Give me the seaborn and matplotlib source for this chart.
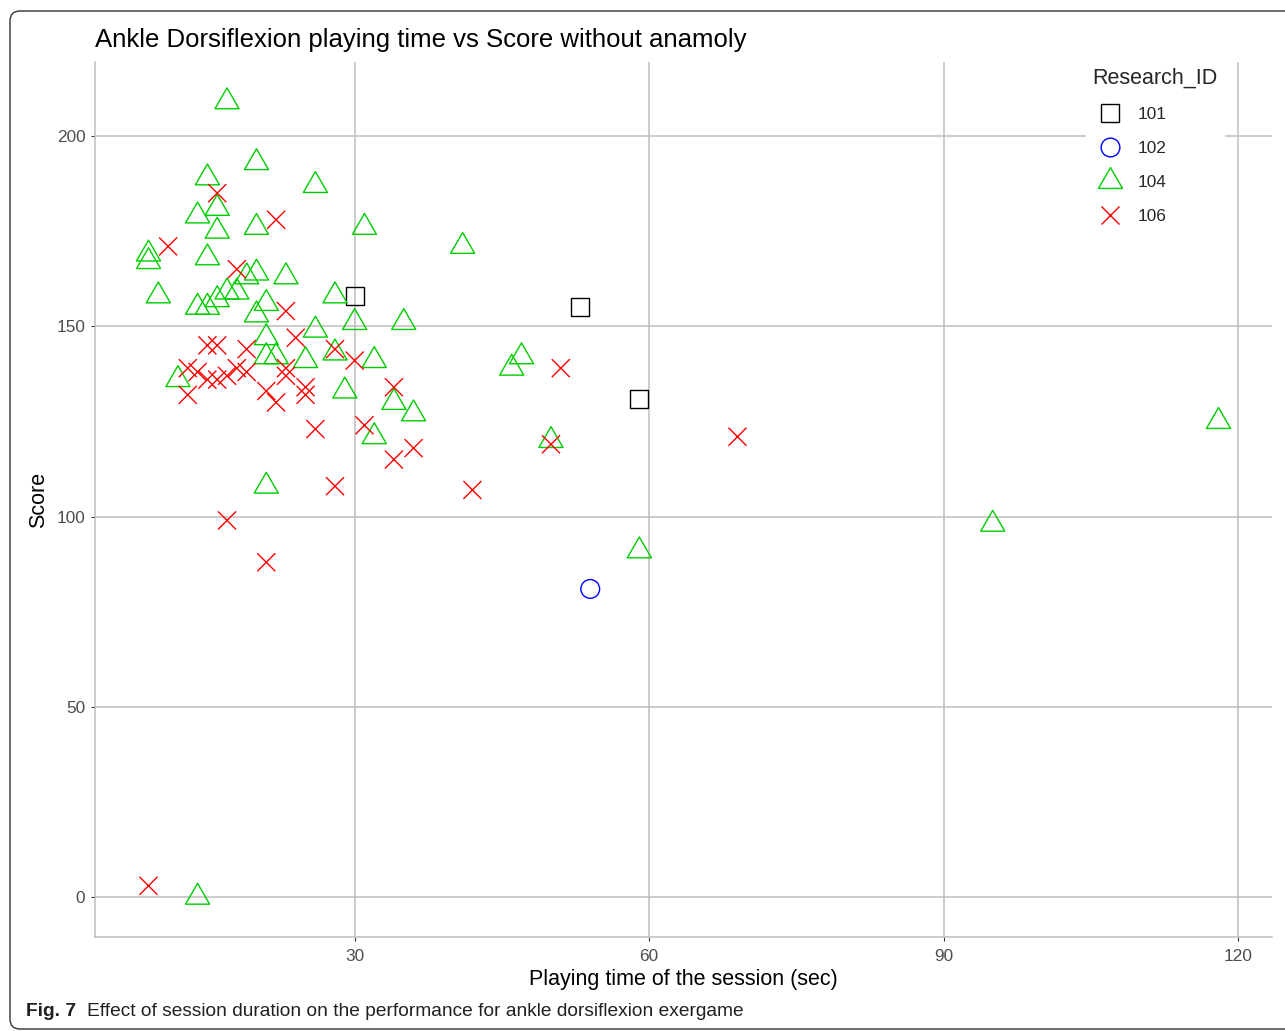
"""Ankle dorsiflexion exergame: playing time vs score (anomalies removed)."""
import numpy as np
import pandas as pd
import matplotlib
matplotlib.use("Agg")
import matplotlib.pyplot as plt
import seaborn as sns
from matplotlib.markers import MarkerStyle
from matplotlib.path import Path
from matplotlib.lines import Line2D
from matplotlib.patches import FancyBboxPatch

sns.set_theme(style="white")
plt.rcParams["font.family"] = ["Liberation Sans", "DejaVu Sans"]

IDS = ["101", "102", "104", "106"]

# playing time (sec) / score, one pair of lists per research id
TIME_101 = [30, 53, 59]
SCORE_101 = [158, 155, 131]

TIME_102 = [54]
SCORE_102 = [81]

TIME_104 = [17, 20, 15, 26, 16, 14, 20, 16, 31, 9,
            9, 15, 10, 20, 19, 23, 14, 15, 16, 17,
            18, 21, 20, 28, 30, 35, 26, 21, 21, 22,
            28, 25, 32, 12, 29, 34, 36, 32, 21, 41,
            47, 46, 50, 59, 95, 118, 14]
SCORE_104 = [209, 193, 189, 187, 181, 179, 176, 175, 176, 169,
             167, 168, 158, 164, 163, 163, 155, 155, 157, 159,
             159, 156, 153, 158, 151, 151, 149, 147, 142, 142,
             143, 141, 141, 136, 133, 130, 127, 121, 108, 171,
             142, 139, 120, 91, 98, 125, 0]

TIME_106 = [9, 11, 16, 22, 18, 23, 24, 15, 16, 19,
            28, 30, 13, 14, 15, 16, 17, 18, 19, 23,
            23, 25, 25, 13, 21, 22, 34, 26, 31, 36,
            34, 28, 42, 17, 21, 50, 51, 69]
SCORE_106 = [3, 171, 185, 178, 165, 154, 147, 145, 145, 144,
             144, 141, 139, 138, 136, 136, 137, 139, 138, 139,
             137, 134, 132, 132, 133, 130, 134, 123, 124, 118,
             115, 108, 107, 99, 88, 119, 139, 121]

COLORS = {"101": "black", "102": "#0000FF", "104": "#00CD00", "106": "#FF0000"}

# R-style open triangle, centred on its centroid
TRI = Path([(0, 1.555), (1.347, -0.778), (-1.347, -0.778), (0, 1.555)],
           [Path.MOVETO, Path.LINETO, Path.LINETO, Path.CLOSEPOLY])
MARKERS = {
    "101": MarkerStyle("s", fillstyle="none"),
    "102": MarkerStyle("o", fillstyle="none"),
    "104": MarkerStyle(TRI, fillstyle="none"),
    "106": MarkerStyle("x"),
}
SIZES = {"101": 13.0 ** 2, "102": 13.5 ** 2, "104": 20.0 ** 2, "106": 13.0 ** 2}
LW = 1.0


def build_frame():
    parts = []
    for rid, t, s in [("101", TIME_101, SCORE_101), ("102", TIME_102, SCORE_102),
                      ("104", TIME_104, SCORE_104), ("106", TIME_106, SCORE_106)]:
        parts.append(pd.DataFrame({"time": t, "score": s, "Research_ID": rid}))
    return pd.concat(parts, ignore_index=True)


def main():
    df = build_frame()
    W, H = 1285, 1031
    fig = plt.figure(figsize=(W / 100, H / 100), dpi=100)
    ax = fig.add_axes([95 / W, 1 - 937 / H, (1272 - 95) / W, (937 - 62) / H])

    sns.scatterplot(data=df, x="time", y="score", hue="Research_ID", style="Research_ID",
                    size="Research_ID", palette=COLORS, markers=MARKERS, sizes=SIZES,
                    hue_order=IDS, style_order=IDS, size_order=IDS,
                    linewidth=LW, legend=False, ax=ax)
    pts = ax.collections[0]
    pts.set_edgecolor(pts.get_facecolor())
    pts.set_facecolor("none")
    pts.set_linewidth(LW)

    # ggplot-like 5% expansion
    xr = df["time"].max() - df["time"].min()
    yr = df["score"].max() - df["score"].min()
    ax.set_xlim(df["time"].min() - 0.05 * xr, df["time"].max() + 0.05 * xr)
    ax.set_ylim(df["score"].min() - 0.05 * yr, df["score"].max() + 0.05 * yr)
    ax.set_xticks([30, 60, 90, 120])
    ax.set_yticks([0, 50, 100, 150, 200])

    ax.grid(True, color="#BEBEBE", linewidth=1.1)
    ax.set_axisbelow(True)
    for side in ["top", "right"]:
        ax.spines[side].set_visible(False)
    for side in ["left", "bottom"]:
        ax.spines[side].set_color("#BEBEBE")
        ax.spines[side].set_linewidth(1.1)
    ax.tick_params(length=3, width=0.8, color="#333333", labelsize=12.4,
                   labelcolor="#4D4D4D", left=True, bottom=True)
    ax.tick_params(axis="x", pad=5.5)
    ax.tick_params(axis="y", pad=4)

    ax.set_xlabel("Playing time of the session (sec)", fontsize=15.5, color="black", labelpad=4)
    ax.set_ylabel("Score", fontsize=15.5, color="black", labelpad=5)
    ax.set_title("Ankle Dorsiflexion playing time vs Score without anamoly",
                 loc="left", fontsize=18.5, color="black", pad=11)

    handles = [Line2D([], [], ls="", marker=MARKERS[i], markersize=np.sqrt(SIZES[i]),
                      markeredgecolor=COLORS[i], markerfacecolor="none",
                      markeredgewidth=LW) for i in IDS]
    ax.legend(handles, IDS, title="Research_ID", loc="upper left",
              bbox_to_anchor=(1077 / W, 1 - 52 / H), bbox_transform=fig.transFigure,
              frameon=True, facecolor="white", edgecolor="none", framealpha=1,
              fontsize=12.4, title_fontsize=15.5, alignment="left",
              handlelength=2.0, handletextpad=0.6, labelspacing=1.1, borderpad=0.4)

    # rounded frame and caption of the figure
    frame = FancyBboxPatch((0.10, 0.02), 13.2, 10.18, boxstyle="round,pad=0,rounding_size=0.1",
                           transform=fig.dpi_scale_trans, facecolor="none",
                           edgecolor="#333333", linewidth=1.0)
    fig.patches.append(frame)
    fig.text(26 / W, 1 - 1011 / H, "Fig. 7", fontsize=13.8, fontweight="bold",
             color="#231F20", va="center", ha="left")
    fig.text(87 / W, 1 - 1011 / H,
             "Effect of session duration on the performance for ankle dorsiflexion exergame",
             fontsize=13.8, color="#231F20", va="center", ha="left")

    fig.savefig("out.png", dpi=100)
    plt.close(fig)


if __name__ == "__main__":
    main()
